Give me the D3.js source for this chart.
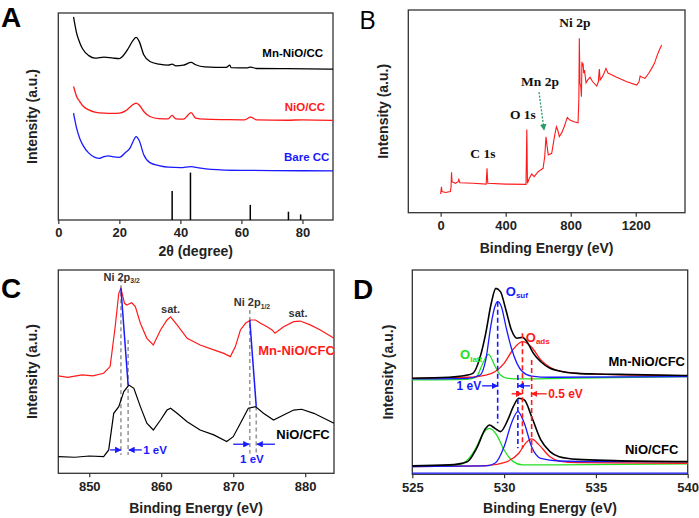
<!DOCTYPE html>
<html><head><meta charset="utf-8">
<script src="https://cdn.jsdelivr.net/npm/d3@7"></script>
<style>body{margin:0;background:#fff}svg text{font-family:"Liberation Sans",Arial,sans-serif}</style>
</head><body><svg id="c" width="699" height="518"></svg>
<script>
// ---------------- Panel A: XRD ----------------
const xrdMn = [[5,98.1],[6,90.3],[7,85.8],[8,82.6],[10,79.4],[12,78.2],[15,78.7],[18,78.2],[20,78.0],[21,79.0],[23,83.1],[24.5,86.8],[25.5,88.2],[26.5,86.3],[28,79.8],[30,76.6],[33,75.3],[36,74.8],[37.3,75.3],[38.5,74.5],[41,74.8],[43.5,76.1],[45,75.0],[48,74.0],[55,73.7],[56.2,74.8],[56.6,73.6],[62,73.5],[63,73.9],[65,73.2],[75,73.1],[90,72.9]];
const xrdNiO = [[5,64.5],[6,59.7],[7,57.3],[8,55.2],[10,53.2],[12,52.1],[15,51.6],[18,51.5],[20,51.6],[22,52.7],[24,55.2],[25.5,56.5],[26.5,55.6],[28,52.4],[30,50.0],[33,49.0],[36,48.9],[37.3,50.5],[38.5,48.9],[41,48.7],[43.5,51.9],[45,49.2],[48,48.7],[55,48.5],[61,48.4],[63,49.7],[65,48.4],[75,48.2],[80,48.4],[90,48.1]];
const xrdCC = [[5,51.6],[6,44.4],[7,39.5],[8,36.3],[10,32.3],[12,30.3],[13.5,29.8],[15,30.6],[16.5,31.0],[18,30.5],[20,30.3],[22,32.6],[23.5,34.7],[24.5,37.9],[25.5,40.3],[26.5,38.4],[28,31.5],[30,27.7],[33,26.3],[36,25.5],[40,25.3],[43.5,25.8],[46,25.2],[50,24.5],[60,24.0],[70,23.9],[90,23.7]];
const refPos = [37.3, 43.3, 62.9, 75.4, 79.4];
const refInt = [14.0, 22.9, 7.3, 4.0, 2.7];
const ticksA = [0, 20, 40, 60, 80];
const labelsA = [["Mn-NiO/CC",76.8,80.7,"#000"],["NiO/CC",80.8,54.6,"#ff1a1a"],["Bare CC",81.4,30.4,"#1a1aff"]];

// ---------------- Panel B: XPS survey ----------------
const survey = [[0,9.2],[5,12.8],[8,10.4],[30,10.0],[60,10.4],[64,12.8],[67,19.9],[70,15.3],[90,14.5],[108,15.3],[112,16.4],[118,14.8],[200,14.5],[280,14.1],[285,21.9],[290,14.5],[400,14.1],[525,14.0],[530,41.1],[534,14.5],[545,16.9],[560,19.1],[575,17.8],[600,20.2],[615,21.1],[630,21.9],[640,27.6],[648,37.5],[655,32.6],[662,28.5],[683,29.3],[700,37.5],[712,42.4],[720,40.8],[730,37.5],[745,39.5],[760,42.4],[779,47.0],[795,45.7],[806,45.4],[820,44.9],[845,44.4],[850,55.6],[853,86.0],[857,63.8],[862,62.2],[866,57.2],[869,74.5],[872,72.0],[876,73.7],[880,68.8],[885,70.4],[894,64.1],[905,65.5],[919,66.8],[935,64.6],[960,62.5],[970,64.6],[976,70.9],[981,65.5],[995,67.1],[1005,68.8],[1017,71.2],[1030,68.8],[1042,68.4],[1083,66.8],[1145,64.6],[1206,63.0],[1220,64.6],[1227,67.4],[1240,66.8],[1257,66.3],[1280,68.8],[1298,71.2],[1315,73.7],[1329,77.0],[1345,80.3],[1360,82.7]];
const ticksB = [0, 400, 800, 1200];
const labelsB = [["Ni 2p",826,93.6],["Mn 2p",611,64.5],["O 1s",506,48.2],["C 1s",260,29.0]];
const arrowB = [[605,59.5],[636,40.8]];

// ---------------- Panel C: Ni 2p ----------------
const ni2pMn = [[845.7,47.9],[847,47.2],[849,48.4],[850.5,47.9],[852,49.2],[852.9,52.5],[853.6,72.1],[854.1,88.5],[854.4,91.0],[854.9,83.6],[855.2,82.8],[855.9,83.9],[856.4,82.0],[857.1,73.8],[858,66.4],[858.9,63.1],[859.9,70.5],[860.8,75.4],[861.3,77.0],[862.2,73.0],[863.6,66.4],[865.4,63.1],[867.3,60.7],[868.7,59.0],[869.6,57.4],[870.3,62.3],[871,70.5],[871.7,73.8],[872.4,75.4],[873.1,75.4],[873.8,73.8],[874.7,72.1],[875.4,70.5],[875.8,68.9],[877,72.1],[878.4,74.6],[879.3,74.9],[880.7,73.0],[882.1,70.5],[884,66.4]];
const ni2pNiO = [[845.7,8.2],[848,7.9],[850,8.5],[852,8.2],[852.7,11.5],[853.4,29.5],[854.1,32.8],[854.8,40.2],[855.5,43.4],[856.2,41.8],[857.1,32.8],[858,24.6],[858.9,21.3],[859.9,26.2],[860.8,31.1],[861.3,32.0],[862.2,29.5],[863.6,25.4],[865.4,21.3],[867.3,18.9],[869.1,15.6],[870,18.0],[871,24.6],[872.1,32.0],[873.1,32.8],[874.2,29.5],[875.6,26.2],[877,28.7],[878.4,31.1],[879.5,31.5],[881.2,29.5],[884,24.6]];
const ticksC = [850, 860, 870, 880];
const dashC = [[854.4,95.9,9.0],[855.4,65.6,9.0],[872.3,80.3,9.8],[873.2,32.8,9.8]];
const shiftC = [[[854.4,91.0],[855.4,43.4]],[[872.3,75.4],[873.2,32.8]]];
const arrowsC = [[852.9,854.4,11.5],[857.3,855.5,11.5],[870.0,872.2,14.3],[875.8,873.3,14.3]];

// ---------------- Panel D: O 1s ----------------
const o1sMnTot = [[525,47.0],[527,47.5],[528,48.6],[528.3,49.4],[528.7,57.6],[529,69.0],[529.3,83.7],[529.55,91.0],[529.8,89.4],[530.1,80.4],[530.4,70.6],[530.7,66.6],[531,67.0],[531.3,64.1],[531.6,59.2],[532,55.1],[532.5,51.9],[533,50.6],[534,49.4],[535,49.1],[537,48.8],[540,48.3]];
const o1sMnSuf = [[525,46.7],[528,47.0],[528.7,48.6],[529,56.0],[529.3,73.9],[529.5,82.1],[529.65,84.5],[529.85,82.1],[530.1,72.3],[530.4,61.7],[530.7,54.3],[531,50.2],[531.5,48.1],[532.5,47.5],[540,47.8]];
const o1sMnLatt = [[525,46.2],[528,46.5],[528.5,47.8],[528.8,53.5],[529.15,58.7],[529.5,53.0],[529.8,48.6],[530.2,47.0],[531,46.7],[533,47.0],[537,47.5],[540,47.8]];
const o1sMnAds = [[525,47.0],[528,47.5],[529,48.6],[529.5,50.2],[530,54.3],[530.5,61.2],[531,64.9],[531.5,62.2],[532,56.0],[532.5,52.4],[533,50.6],[534,49.4],[536,48.8],[540,48.3]];
const o1sNiTot = [[525,4.1],[527,4.6],[528,6.2],[528.5,12.7],[529,22.5],[529.2,24.1],[529.5,22.5],[529.8,20.9],[530.2,26.6],[530.5,33.1],[530.8,37.2],[531.1,36.4],[531.5,28.2],[532,16.8],[532.5,11.1],[533,8.6],[534,7.3],[536,6.7],[540,6.2]];
const o1sNiLatt = [[525,3.8],[527.5,4.6],[528,7.0],[528.5,13.5],[528.8,19.2],[529.2,22.5],[529.6,19.2],[530,11.9],[530.5,6.2],[531,4.6],[533,4.6],[540,5.1]];
const o1sNiSuf = [[525,3.8],[529,4.1],[529.5,5.4],[530,13.5],[530.4,25.0],[530.75,30.7],[531.1,25.0],[531.5,13.5],[532,7.8],[533,6.5],[535,6.2],[540,6.2]];
const o1sNiAds = [[525,3.8],[529,4.2],[530,5.7],[530.8,10.3],[531.2,15.5],[531.5,17.3],[531.9,14.4],[532.5,8.6],[533,6.5],[534,5.7],[540,5.4]];
const ticksD = [525, 530, 535, 540];
const dashD = [[529.65,84.5,25.0,"#1a1aff"],[530.75,48.6,12.7,"#1a1aff"],[531.0,69.0,12.7,"#ff1a1a"],[531.5,56.0,10.3,"#ff1a1a"]];
const arrowsD = [[528.8,529.64,43.3,"#1a1aff"],[531.41,530.77,43.3,"#1a1aff"],[530.41,530.96,39.4,"#ff1a1a"],[532.32,531.5,39.4,"#ff1a1a"]];

const RED = "#ff1a1a", BLUE = "#1a1aff", GREEN = "#22e022";
const svg = d3.select("#c");
const defs = svg.append("defs");
function marker(id, color) {
  defs.append("marker").attr("id", id).attr("viewBox", "0 0 10 10").attr("refX", 9).attr("refY", 5)
    .attr("markerWidth", 5).attr("markerHeight", 5).attr("orient", "auto")
    .append("path").attr("d", "M0,0 L10,5 L0,10 z").attr("fill", color);
}
marker("mBlue", BLUE); marker("mRed", RED); marker("mGreen", "#2a9a6a");

function panel(o) {
  const x = d3.scaleLinear().domain(o.xd).range([o.l, o.r]);
  const y = d3.scaleLinear().domain([0, 100]).range([o.b, o.t]);
  const g = svg.append("g");
  const ax = g.append("g").attr("transform", `translate(0,${o.b})`)
    .call(d3.axisBottom(x).tickValues(o.ticks).tickFormat(d3.format("d")).tickSize(4).tickSizeOuter(0).tickPadding(4));
  ax.select(".domain").remove();
  ax.selectAll("line").attr("stroke", "#333").attr("stroke-width", 1.2);
  ax.selectAll("text").attr("font-size", 13).attr("font-weight", "bold").attr("fill", "#222");
  g.append("rect").attr("x", o.l).attr("y", o.t).attr("width", o.r - o.l).attr("height", o.b - o.t)
    .attr("fill", "none").attr("stroke", "#333").attr("stroke-width", 1.3);
  g.append("text").attr("x", (o.l + o.r) / 2).attr("y", o.xty).attr("text-anchor", "middle")
    .attr("font-size", 14).attr("font-weight", "bold").attr("fill", "#222").text(o.xt);
  g.append("text").attr("transform", `translate(${o.ytx},${(o.t + o.b) / 2}) rotate(-90)`)
    .attr("text-anchor", "middle").attr("dominant-baseline", "central")
    .attr("font-size", 14).attr("font-weight", "bold").attr("fill", "#222").text("Intensity (a.u.)");
  const L = g.append("text").attr("x", o.lx).attr("y", o.ly).attr("font-size", o.ls || 28)
    .attr("font-weight", o.lw || "bold").text(o.letter);
  if (o.lf) L.style("font-family", o.lf);
  return {x, y, g};
}
function line(p, data, color, w, curve) {
  p.g.append("path").datum(data).attr("fill", "none").attr("stroke", color).attr("stroke-width", w || 1.3)
    .attr("d", d3.line().x(d => p.x(d[0])).y(d => p.y(d[1])).curve(curve || d3.curveMonotoneX));
}

// Panel A
const pA = panel({l:58.3, r:333, t:13, b:220, xd:[0,90], ticks:ticksA, xt:"2θ (degree)", xty:256, ytx:32, letter:"A", lx:1, ly:27});
line(pA, xrdMn, "#000"); line(pA, xrdNiO, RED); line(pA, xrdCC, BLUE);
pA.g.selectAll(".ref").data(refPos).join("line").attr("x1", d => pA.x(d)).attr("x2", d => pA.x(d))
  .attr("y1", pA.y(0)).attr("y2", (d, i) => pA.y(refInt[i])).attr("stroke", "#000").attr("stroke-width", 1.5);
labelsA.forEach(l => pA.g.append("text").attr("x", pA.x(l[1])).attr("y", pA.y(l[2])).attr("text-anchor", "middle")
  .attr("dominant-baseline", "central").attr("font-size", 11.5).attr("font-weight", "bold").attr("fill", l[3]).text(l[0]));

// Panel B
const pB = panel({l:408.3, r:685, t:10, b:212.7, xd:[-199,1503], ticks:ticksB, xt:"Binding Energy (eV)", xty:253, ytx:383, letter:"B", lx:359, ly:29, ls:26, lw:"normal", lf:"'Open Sans', sans-serif"});
line(pB, survey, RED, 1.1, d3.curveLinear);
labelsB.forEach(l => pB.g.append("text").attr("x", pB.x(l[1])).attr("y", pB.y(l[2])).attr("text-anchor", "middle")
  .attr("dominant-baseline", "central").attr("font-size", 13.5).attr("font-weight", "bold")
  .style("font-family", "'Liberation Serif', serif").attr("fill", "#111").text(l[0]));
pB.g.append("line").attr("x1", pB.x(arrowB[0][0])).attr("y1", pB.y(arrowB[0][1])).attr("x2", pB.x(arrowB[1][0])).attr("y2", pB.y(arrowB[1][1]))
  .attr("stroke", "#2a9a6a").attr("stroke-width", 1.3).attr("stroke-dasharray", "2,1.5").attr("marker-end", "url(#mGreen)");

// Panel C
const pC = panel({l:58.3, r:334, t:270, b:473.3, xd:[845.7,884], ticks:ticksC, xt:"Binding Energy (eV)", xty:513, ytx:32, letter:"C", lx:1, ly:298});
dashC.forEach(d => pC.g.append("line").attr("x1", pC.x(d[0])).attr("x2", pC.x(d[0])).attr("y1", pC.y(d[1])).attr("y2", pC.y(d[2]))
  .attr("stroke", "#9a9a9a").attr("stroke-width", 1.6).attr("stroke-dasharray", "4,3"));
line(pC, ni2pMn, RED, 1.2, d3.curveLinear); line(pC, ni2pNiO, "#000", 1.2, d3.curveLinear);
shiftC.forEach(s => pC.g.append("line").attr("x1", pC.x(s[0][0])).attr("y1", pC.y(s[0][1])).attr("x2", pC.x(s[1][0])).attr("y2", pC.y(s[1][1]))
  .attr("stroke", BLUE).attr("stroke-width", 1.5));
arrowsC.forEach(a => pC.g.append("line").attr("x1", pC.x(a[0])).attr("x2", pC.x(a[1])).attr("y1", pC.y(a[2])).attr("y2", pC.y(a[2]))
  .attr("stroke", BLUE).attr("stroke-width", 1.3).attr("marker-end", "url(#mBlue)"));
function txt(p, s, xv, yv, color, size, anchor, sub) {
  const t = p.g.append("text").attr("x", p.x(xv)).attr("y", p.y(yv)).attr("text-anchor", anchor || "middle")
    .attr("dominant-baseline", "central").attr("font-size", size).attr("font-weight", "bold").attr("fill", color).text(s);
  if (sub) t.append("tspan").attr("font-size", size * 0.62).attr("dy", size * 0.3).text(sub);
  return t;
}
txt(pC, "Ni 2p", 854.5, 96.7, "#333", 11, "middle", "3/2");
txt(pC, "sat.", 861.3, 80.7, "#333", 11);
txt(pC, "Ni 2p", 872.6, 84.1, "#333", 11, "middle", "1/2");
txt(pC, "sat.", 879.0, 78.7, "#333", 11);
txt(pC, "Mn-NiO/CFC", 878.8, 60.3, RED, 13);
txt(pC, "NiO/CFC", 879.7, 19.3, "#000", 13);
txt(pC, "1 eV", 857.5, 11.5, BLUE, 11.5, "start");
txt(pC, "1 eV", 872.6, 6.9, BLUE, 11.5);

// Panel D
const pD = panel({l:412.3, r:687.7, t:270, b:474.3, xd:[525,540], ticks:ticksD, xt:"Binding Energy (eV)", xty:513, ytx:388, letter:"D", lx:353, ly:299});
pD.g.append("line").attr("x1", pD.x(525)).attr("x2", pD.x(540)).attr("y1", pD.y(0.6)).attr("y2", pD.y(0.6)).attr("stroke", BLUE).attr("stroke-width", 1.2);
line(pD, o1sMnLatt, GREEN); line(pD, o1sMnAds, RED); line(pD, o1sMnSuf, BLUE); line(pD, o1sMnTot, "#000", 1.6);
line(pD, o1sNiLatt, GREEN); line(pD, o1sNiAds, RED); line(pD, o1sNiSuf, BLUE); line(pD, o1sNiTot, "#000", 1.6);
dashD.forEach(d => pD.g.append("line").attr("x1", pD.x(d[0])).attr("x2", pD.x(d[0])).attr("y1", pD.y(d[1])).attr("y2", pD.y(d[2]))
  .attr("stroke", d[3]).attr("stroke-width", 1.6).attr("stroke-dasharray", "5,3"));
arrowsD.forEach(a => pD.g.append("line").attr("x1", pD.x(a[0])).attr("x2", pD.x(a[1])).attr("y1", pD.y(a[2])).attr("y2", pD.y(a[2]))
  .attr("stroke", a[3]).attr("stroke-width", 1.3).attr("marker-end", a[3] === RED ? "url(#mRed)" : "url(#mBlue)"));
txt(pD, "O", 530.09, 89.5, BLUE, 13, "start", "suf");
txt(pD, "O", 531.18, 67.2, RED, 13, "start", "ads");
txt(pD, "O", 527.6, 58.5, GREEN, 13, "start", "latt");
txt(pD, "Mn-NiO/CFC", 537.77, 55.2, "#000", 13);
txt(pD, "NiO/CFC", 538.04, 11.9, "#000", 13);
txt(pD, "1 eV", 528.75, 43.3, BLUE, 12, "end");
txt(pD, "0.5 eV", 532.4, 39.4, RED, 12, "start");
</script></body></html>
